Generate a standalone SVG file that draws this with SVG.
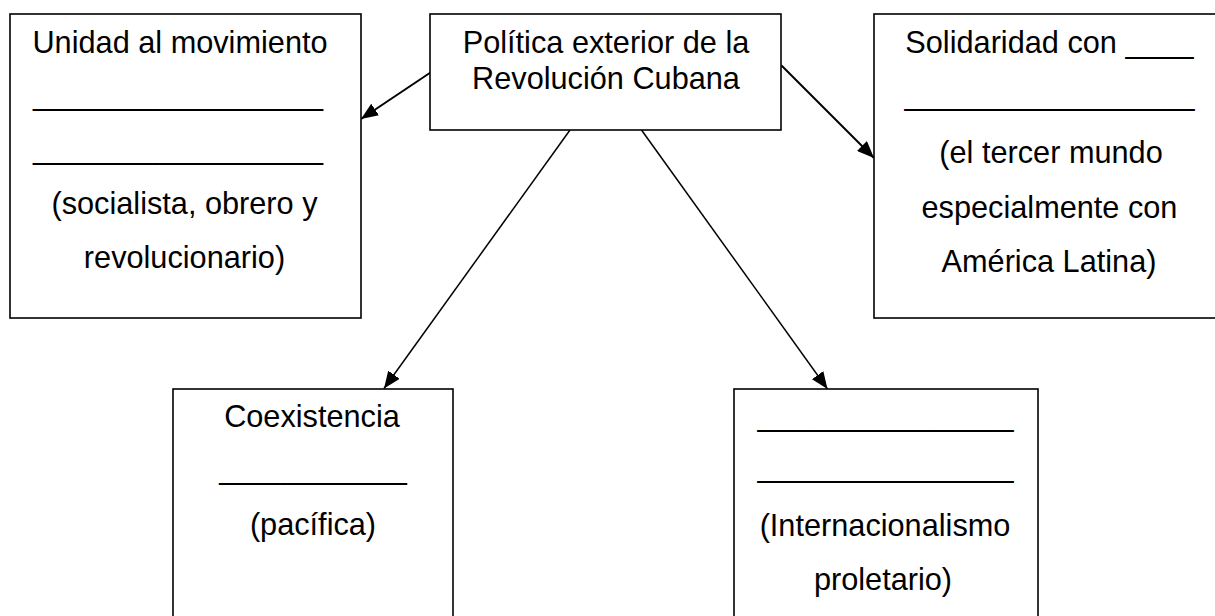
<svg xmlns="http://www.w3.org/2000/svg" width="1215" height="616" viewBox="0 0 1215 616">
<defs>
<style>
.box{fill:#fff;stroke:#000;stroke-width:1.6}
.t{font-family:"Liberation Sans",Arial,sans-serif;font-size:30.7px;fill:#000;text-anchor:middle}
.c{stroke:#000;stroke-width:1.5;fill:none}
.cb{stroke:#000;stroke-width:2;fill:none}
</style>
<marker id="ah" markerUnits="userSpaceOnUse" markerWidth="18" markerHeight="14" viewBox="0 0 18 14" refX="17" refY="7" orient="auto">
<path d="M0,0 L17,7 L0,14 Z" fill="#000"/>
</marker>
</defs>
<rect width="1215" height="616" fill="#fff"/>
<g id="connectors">
<line class="cb" x1="430.5" y1="72.5" x2="361" y2="119" marker-end="url(#ah)"/>
<line class="cb" x1="781.5" y1="65.5" x2="874" y2="158" marker-end="url(#ah)"/>
<line class="c" x1="570" y1="130" x2="384" y2="388.5" marker-end="url(#ah)"/>
<line class="c" x1="641.5" y1="130" x2="827.5" y2="389" marker-end="url(#ah)"/>
</g>
<g id="node-left">
<rect class="box" x="10" y="14" width="351" height="304"/>
<text class="t" x="180" y="53">Unidad al movimiento</text>
<text class="t" x="178" y="105">_________________</text>
<text class="t" x="178" y="159">_________________</text>
<text class="t" x="184.5" y="214">(socialista, obrero y</text>
<text class="t" x="184.5" y="268">revolucionario)</text>
</g>
<g id="node-center">
<rect class="box" x="430" y="14" width="351" height="116"/>
<text class="t" x="606" y="53">Política exterior de la</text>
<text class="t" x="606" y="89">Revolución Cubana</text>
</g>
<g id="node-right">
<rect class="box" x="874" y="14" width="350" height="304"/>
<text class="t" x="1049.5" y="53">Solidaridad con ____</text>
<text class="t" x="1049.5" y="105">_________________</text>
<text class="t" x="1051" y="163">(el tercer mundo</text>
<text class="t" x="1049.5" y="218">especialmente con</text>
<text class="t" x="1049" y="272">América Latina)</text>
</g>
<g id="node-bottom-left">
<rect class="box" x="173" y="389" width="280" height="240"/>
<text class="t" x="312" y="427">Coexistencia</text>
<text class="t" x="313" y="479">___________</text>
<text class="t" x="313" y="535">(pacífica)</text>
</g>
<g id="node-bottom-right">
<rect class="box" x="734" y="389" width="304" height="240"/>
<text class="t" x="885.5" y="426">_______________</text>
<text class="t" x="885.5" y="477">_______________</text>
<text class="t" x="885" y="536">(Internacionalismo</text>
<text class="t" x="883" y="590">proletario)</text>
</g>
</svg>
